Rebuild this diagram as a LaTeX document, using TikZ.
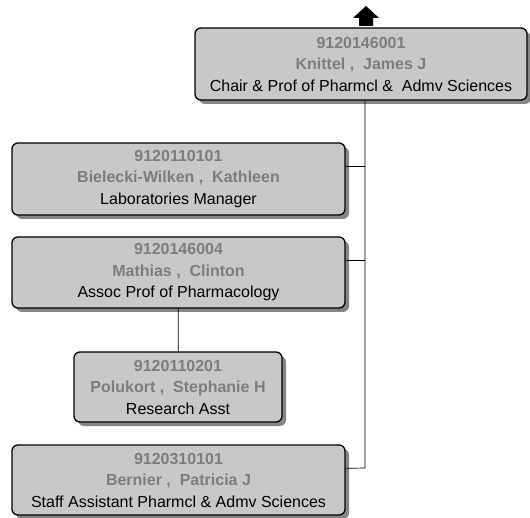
\documentclass[tikz,border=0pt]{standalone}
\usepackage{fontspec}
\setmainfont{Liberation Sans}
\usetikzlibrary{shadows}
\definecolor{boxfill}{RGB}{200,200,200}
\definecolor{idgray}{RGB}{125,125,125}
\definecolor{shadowgray}{RGB}{120,120,120}
\tikzset{
  person/.style={draw=black, line width=1.3pt, fill=boxfill, rounded corners=6pt,
    align=center, inner sep=0pt, font=\fontsize{16}{21.5}\selectfont,
    drop shadow={shadow xshift=4pt, shadow yshift=-4pt, fill=shadowgray, opacity=0.9}},
  link/.style={draw=black, line width=0.7pt},
}
\newcommand{\pid}[1]{\textcolor{idgray}{\bfseries #1}}
\begin{document}
\begin{tikzpicture}[x=1pt, y=-1pt]
\useasboundingbox (0,0) rectangle (530,518);
% block arrow pointing up to the next level
\fill[black] (366,6) -- (379,18) -- (373,18) -- (373,26) -- (359,26) -- (359,18) -- (353,18) -- cycle;
% people
\node[person, minimum width=332pt, minimum height=72pt] (knittel) at (361,64)
  {\pid{9120146001}\\ \pid{Knittel ,~ James J}\\ Chair \& Prof of Pharmcl \&~ Admv Sciences};
\node[person, minimum width=333pt, minimum height=72pt] (bielecki) at (178.5,179)
  {\pid{9120110101}\\ \pid{Bielecki-Wilken ,~ Kathleen}\\ Laboratories Manager};
\node[person, minimum width=333pt, minimum height=71pt] (mathias) at (178.5,272.5)
  {\pid{9120146004}\\ \pid{Mathias ,~ Clinton}\\ Assoc Prof of Pharmacology};
\node[person, minimum width=208pt, minimum height=70pt] (polukort) at (178,387)
  {\pid{9120110201}\\ \pid{Polukort ,~ Stephanie H}\\ Research Asst};
\node[person, minimum width=333pt, minimum height=70pt] (bernier) at (178.5,480)
  {\pid{9120310101}\\ \pid{Bernier ,~ Patricia J}\\ Staff Assistant Pharmcl \& Admv Sciences};
% reporting lines
\coordinate (trunk) at (365,468);
\draw[link] (knittel.south -| trunk) -- (trunk) -- ([yshift=-24pt]bernier.north east);
\draw[link] ([yshift=-24pt]bielecki.north east) -- ([yshift=-24pt]bielecki.north east -| trunk);
\draw[link] ([yshift=-24pt]mathias.north east) -- ([yshift=-24pt]mathias.north east -| trunk);
\draw[link] (mathias) -- (polukort);
\end{tikzpicture}
\end{document}
